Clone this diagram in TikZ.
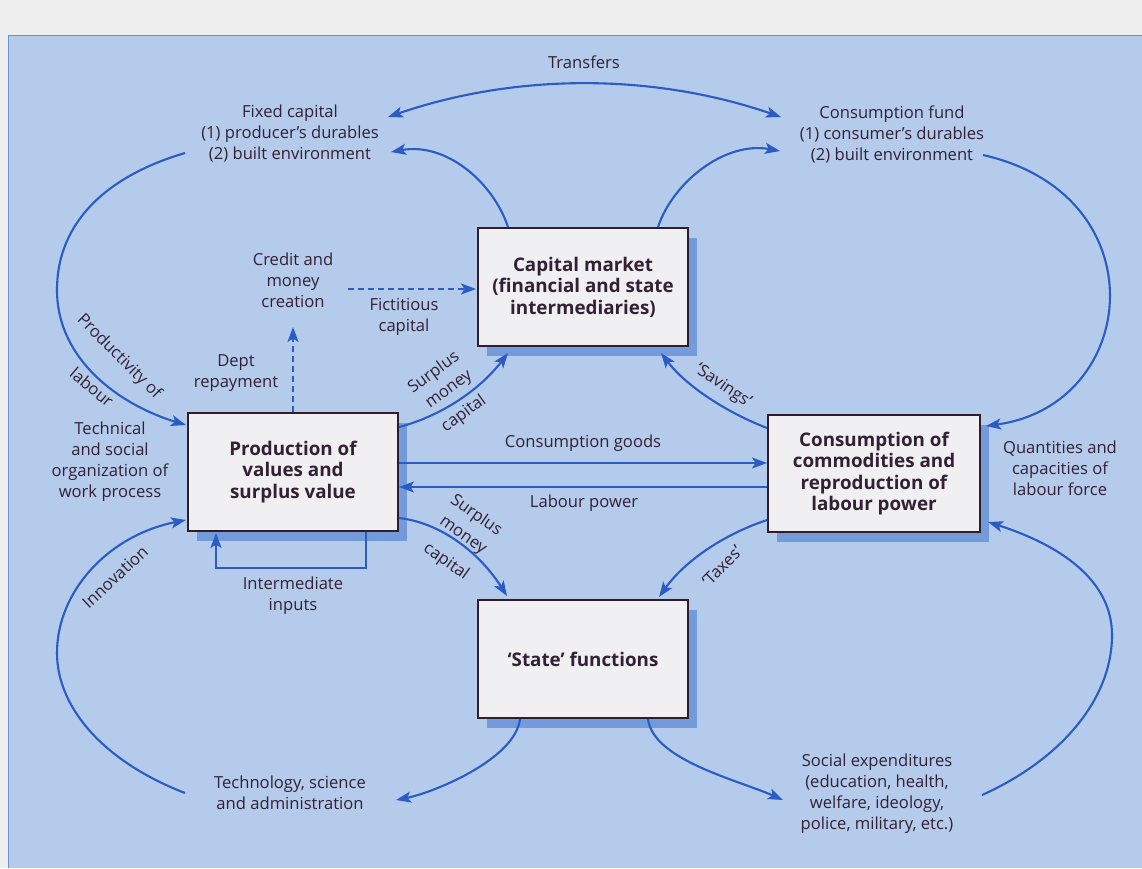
\documentclass[tikz,border=0pt]{standalone}
\usepackage{fontspec}
\setmainfont{Open Sans}
\usetikzlibrary{arrows.meta,shadows}
\definecolor{panel}{RGB}{180,203,235}
\definecolor{panelline}{RGB}{110,145,205}
\definecolor{paper}{RGB}{238,238,238}
\definecolor{ink}{RGB}{52,32,52}
\definecolor{boxline}{RGB}{48,28,42}
\definecolor{boxfill}{RGB}{240,240,243}
\definecolor{shade}{RGB}{115,155,220}
\definecolor{flowblue}{RGB}{42,92,195}
\begin{document}
\begin{tikzpicture}[x=1pt,y=-1pt,
  txt/.style={text=ink, align=center, inner sep=0pt, font=\fontsize{16.6}{21}\selectfont},
  lbl/.style={text=ink, inner sep=0pt, font=\fontsize{16.6}{21}\selectfont},
  box/.style={draw=boxline, line width=2pt, fill=boxfill, minimum width=210pt, minimum height=118pt,
    align=center, text=ink, inner sep=2pt, font=\fontsize{18.8}{21.5}\selectfont\bfseries,
    general shadow={fill=shade, shadow xshift=9pt, shadow yshift=-10pt}},
  flow/.style={draw=flowblue, line width=2.1pt, -{Stealth[length=15pt,width=11pt,inset=3.5pt]}},
  flowboth/.style={draw=flowblue, line width=2.1pt, {Stealth[length=15pt,width=11pt,inset=3.5pt]}-{Stealth[length=15pt,width=11pt,inset=3.5pt]}},
  dflow/.style={draw=flowblue, line width=1.8pt, dash pattern=on 6pt off 4pt, -{Stealth[length=15pt,width=11pt,inset=3.5pt]}}
]
\useasboundingbox (0,0) rectangle (1142,868);
\fill[paper] (0,0) rectangle (1142,868);
\fill[panel] (8,35) rectangle (1142,868);
\draw[panelline, line width=1pt] (8,868) -- (8,35) -- (1142,35);

% boxes
\node[box] (cap) at (583,287) {Capital market\\(financial and state\\intermediaries)};
\node[box] (prod) at (293,472) {Production of\\values and\\surplus value};
\node[box, minimum width=212pt, minimum height=117pt] (cons) at (874,473.5) {Consumption of\\commodities and\\reproduction of\\labour power};
\node[box] (state) at (583,659) {‘State’ functions};

% text nodes
\node[txt] (transfers) at (584,62) {Transfers};
\node[txt] (fixed) at (290,134) {Fixed capital\\(1) producer’s durables\\(2) built environment};
\node[txt] (cfund) at (892,134) {Consumption fund\\(1) consumer’s durables\\(2) built environment};
\node[txt] (credit) at (293,280) {Credit and\\money\\creation};
\node[txt] (fict) at (404,317) {Fictitious\\capital};
\node[txt] (dept) at (236,373) {Dept\\repayment};
\node[lbl, rotate=-45] (prodlab) at (119,357) {Productivity of};
\node[lbl, rotate=-40] (labour) at (92,387) {labour};
\node[txt] (techsoc) at (110,462) {Technical\\and social\\organization of\\work process};
\node[lbl, rotate=36] (su1) at (434,373) {Surplus};
\node[lbl, rotate=36] (mo1) at (450,391) {money};
\node[lbl, rotate=36] (ca1) at (464,414) {capital};
\node[lbl, rotate=-34] (savings) at (723,386) {‘Savings’};
\node[txt] (cgoods) at (583,443) {Consumption goods};
\node[txt] (lpower) at (584,503) {Labour power};
\node[txt] (quant) at (1060,468) {Quantities and\\capacities of\\labour force};
\node[lbl, rotate=-35] (su2) at (476,516) {Surplus};
\node[lbl, rotate=-35] (mo2) at (462,537) {money};
\node[lbl, rotate=-35] (ca2) at (446,562) {capital};
\node[lbl, rotate=45] (taxes) at (722,566) {‘Taxes’};
\node[txt] (interm) at (293,596) {Intermediate\\inputs};
\node[lbl, rotate=43] (innov) at (115,577) {Innovation};
\node[txt] (techsci) at (290,793) {Technology, science\\and administration};
\node[txt] (social) at (877,794) {Social expenditures\\(education, health,\\welfare, ideology,\\police, military, etc.)};

% connector end points
\coordinate (tA) at (388,117);
\coordinate (tB) at (781,117);
\coordinate (cmL) at (508,227);
\coordinate (fcA) at (391,152);
\coordinate (cmR) at (658,227);
\coordinate (cfA) at (780,151);
\coordinate (cfB) at (983,155);
\coordinate (cbTR) at (986,426);
\coordinate (fcB) at (185,153);
\coordinate (pbTL) at (186,425);
\coordinate (pbTR) at (399,427);
\coordinate (cmBL) at (508,353);
\coordinate (cbTL) at (767,428);
\coordinate (cmBR) at (661,353);
\coordinate (fa) at (348,289);
\coordinate (fb) at (476,289);
\coordinate (da) at (293,412);
\coordinate (db) at (293,327);
\coordinate (cgA) at (399,463);
\coordinate (cgB) at (767,463);
\coordinate (lpA) at (767,487);
\coordinate (lpB) at (399,487);
\coordinate (pbBR) at (399,518);
\coordinate (stTL) at (507,596);
\coordinate (cbBL) at (767,520);
\coordinate (stTR) at (659,597);
\coordinate (ia) at (366,532);
\coordinate (ib) at (216,533);
\coordinate (tsA) at (185,793);
\coordinate (pbL) at (186,520);
\coordinate (stBL) at (520,719);
\coordinate (tsB) at (396,800);
\coordinate (stBR) at (648,719);
\coordinate (socA) at (783,800);
\coordinate (socB) at (982,795);
\coordinate (cbBR) at (988,522);

% connectors
\draw[flowboth] (tA) .. controls +(128,-44) and +(-128,-44) .. (tB);
\draw[flow] (cmL) .. controls +(-15,-45) and +(55,-10) .. (fcA);
\draw[flow] (cmR) .. controls +(15,-45) and +(-55,-10) .. (cfA);
\draw[flow] (cfB) .. controls (1160,195) and (1140,405) .. (cbTR);
\draw[flow] (fcB) .. controls (110,175) and (57,220) .. (57,290) .. controls (57,360) and (120,405) .. (pbTL);
\draw[flow] (pbTR) .. controls (438,417) and (478,392) .. (cmBL);
\draw[flow] (cbTL) .. controls (728,413) and (687,387) .. (cmBR);
\draw[dflow] (fa) -- (fb);
\draw[dflow] (da) -- (db);
\draw[flow] (cgA) -- (cgB);
\draw[flow] (lpA) -- (lpB);
\draw[flow] (pbBR) .. controls (443,523) and (481,555) .. (stTL);
\draw[flow] (cbBL) .. controls (722,535) and (684,562) .. (stTR);
\draw[flow] (ia) -- (366,568) -| (ib);
\draw[flow] (tsA) .. controls (100,760) and (57,705) .. (57,653) .. controls (57,590) and (110,535) .. (pbL);
\draw[flow] (stBL) .. controls (515,760) and (432,793) .. (tsB);
\draw[flow] (stBR) .. controls (653,760) and (738,780) .. (socA);
\draw[flow] (socB) .. controls (1060,760) and (1112,700) .. (1112,635) .. controls (1112,580) and (1060,545) .. (cbBR);
\end{tikzpicture}
\end{document}
